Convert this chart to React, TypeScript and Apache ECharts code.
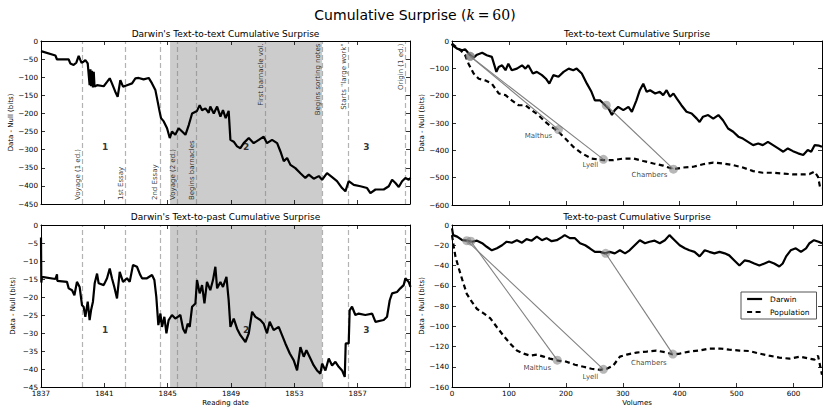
import React, { useEffect, useRef } from "react";
import * as echarts from "echarts";

const FONT = "DejaVu Sans";

// ---- Left top: Darwin's text-to-text cumulative surprise vs reading date
const ttDates = [1837.0, 1837.91, 1838.01, 1838.75, 1838.85, 1839.06, 1839.23, 1839.38, 1839.48, 1839.56, 1839.65, 1839.8, 1839.95, 1840.07, 1840.12, 1840.16, 1840.22, 1840.28, 1840.33, 1840.38, 1840.54, 1840.96, 1841.17, 1841.34, 1841.48, 1841.69, 1841.84, 1842.01, 1842.18, 1842.43, 1842.75, 1842.96, 1843.17, 1843.48, 1843.8, 1844.01, 1844.22, 1844.37, 1844.49, 1844.58, 1844.75, 1844.96, 1845.13, 1845.27, 1845.48, 1845.69, 1845.91, 1846.12, 1846.33, 1846.54, 1846.85, 1847.02, 1847.17, 1847.38, 1847.59, 1847.69, 1847.91, 1848.12, 1848.33, 1848.49, 1848.66, 1848.85, 1848.96, 1849.17, 1849.38, 1849.59, 1849.8, 1850.12, 1850.43, 1850.75, 1851.06, 1851.27, 1851.59, 1851.91, 1852.12, 1852.33, 1852.54, 1852.75, 1853.06, 1853.38, 1853.69, 1853.91, 1854.22, 1854.54, 1854.75, 1855.06, 1855.38, 1855.69, 1856.01, 1856.22, 1856.43, 1856.75, 1857.17, 1857.59, 1857.8, 1858.12, 1858.64, 1858.96, 1859.17, 1859.38, 1859.59, 1859.8, 1860.01, 1860.22, 1860.33];
const ttValues = [-28, -40, -51, -51, -62, -66, -60, -41, -52, -60, -58, -53, -62, -122, -78, -125, -82, -128, -85, -126, -122, -125, -113, -103, -117, -140, -154, -108, -126, -122, -117, -103, -102, -106, -102, -117, -135, -168, -195, -213, -222, -241, -268, -250, -259, -241, -250, -259, -232, -200, -193, -177, -191, -186, -198, -181, -200, -181, -209, -191, -213, -193, -273, -278, -291, -296, -282, -268, -282, -273, -264, -282, -273, -282, -305, -332, -323, -342, -351, -365, -378, -369, -380, -373, -383, -365, -376, -387, -406, -415, -387, -397, -401, -406, -420, -410, -410, -401, -383, -392, -403, -387, -378, -383, -378];

// ---- Left bottom: Darwin's text-to-past cumulative surprise vs reading date
const tpDates = [1837.0, 1837.02, 1837.06, 1837.91, 1838.01, 1838.03, 1838.64, 1838.75, 1838.96, 1839.11, 1839.27, 1839.44, 1839.59, 1839.69, 1839.8, 1839.95, 1840.07, 1840.16, 1840.28, 1840.39, 1840.54, 1840.64, 1840.96, 1841.17, 1841.34, 1841.48, 1841.63, 1841.8, 1841.97, 1842.18, 1842.43, 1842.6, 1842.81, 1843.06, 1843.27, 1843.38, 1843.69, 1844.01, 1844.16, 1844.28, 1844.41, 1844.54, 1844.64, 1844.79, 1844.92, 1845.06, 1845.27, 1845.48, 1845.8, 1845.97, 1846.12, 1846.26, 1846.39, 1846.54, 1846.75, 1846.85, 1847.02, 1847.17, 1847.32, 1847.48, 1847.69, 1847.86, 1848.01, 1848.12, 1848.33, 1848.49, 1848.71, 1848.85, 1848.96, 1849.17, 1849.38, 1849.59, 1849.91, 1850.12, 1850.33, 1850.54, 1850.85, 1851.06, 1851.27, 1851.44, 1851.69, 1852.01, 1852.22, 1852.43, 1852.71, 1852.96, 1853.17, 1853.38, 1853.59, 1853.76, 1854.01, 1854.22, 1854.43, 1854.64, 1854.75, 1854.96, 1855.17, 1855.38, 1855.59, 1855.8, 1856.01, 1856.18, 1856.24, 1856.43, 1856.49, 1856.64, 1856.85, 1857.06, 1857.48, 1857.91, 1858.12, 1858.64, 1858.85, 1859.02, 1859.17, 1859.48, 1859.69, 1859.9, 1860.01, 1860.22, 1860.33];
const tpValues = [-3.5, -16, -14.4, -15.0, -13.7, -15.5, -15.8, -17.6, -18.1, -19.5, -15.8, -17.2, -22.3, -22.7, -25.5, -21.3, -26.4, -23.7, -21.3, -16.2, -13.5, -16.2, -16.7, -14.8, -12.1, -14.8, -17.2, -20.4, -13.0, -15.8, -14.8, -15.8, -11.1, -11.6, -13.9, -14.8, -14.8, -13.9, -15.3, -19.9, -27.8, -24.6, -28.3, -25.5, -30.1, -26.4, -25.0, -26.0, -25.0, -28.8, -30.1, -27.4, -28.3, -22.7, -21.8, -15.3, -19.0, -16.7, -21.8, -15.8, -18.1, -15.3, -11.6, -17.6, -15.8, -17.2, -14.4, -20.9, -28.3, -26.0, -28.8, -30.6, -32.5, -30.1, -24.1, -25.5, -26.4, -27.4, -30.1, -26.9, -29.2, -28.3, -30.6, -32.9, -35.7, -37.6, -40.4, -33.9, -36.6, -34.8, -37.1, -39.0, -40.4, -41.3, -38.5, -40.4, -37.1, -39.0, -38.0, -39.4, -40.4, -42.2, -32.9, -32.9, -23.7, -22.7, -25.0, -24.6, -25.0, -24.6, -26.9, -26.4, -25.5, -20.9, -19.0, -18.6, -17.6, -16.7, -14.8, -15.8, -17.2];

// ---- Events (vertical dashed lines) and periods
const eventDates = [1839.6, 1842.35, 1844.5, 1845.62, 1846.78, 1851.17, 1854.75, 1856.41, 1860.0];
const eventLabels = ["Voyage (1 ed.)", "1st Essay", "2nd Essay", "Voyage (2 ed.)", "Begins barnacles", "First barnacle vol.", "Begins sorting notes", "Starts \"large work\"", "Origin (1 ed.)"];
const eventAtTop = [false, false, false, false, false, true, true, true, true];
const shadeRange = [1845.15, 1854.75];
const periodNames = ["1", "2", "3"];
const periodDates = [1841.05, 1849.95, 1857.55];

// ---- Right top: text-to-text vs volumes
const rtDarwinVol = [0, 1, 9, 18, 23, 32, 38, 44, 53, 61, 70, 78, 82, 88, 94, 99, 105, 114, 123, 129, 134, 142, 149, 158, 165, 171, 178, 187, 196, 205, 213, 219, 228, 237, 245, 251, 260, 269, 275, 281, 286, 292, 301, 310, 316, 324, 330, 336, 342, 348, 357, 365, 371, 377, 383, 389, 395, 403, 412, 421, 430, 435, 441, 450, 459, 468, 476, 485, 494, 503, 511, 520, 529, 538, 546, 555, 564, 573, 582, 590, 599, 608, 617, 625, 631, 637, 645, 650];
const rtDarwinVal = [-10, -16, -28, -34, -30, -52, -61, -50, -43, -52, -58, -113, -95, -89, -107, -83, -107, -101, -89, -101, -89, -119, -113, -125, -138, -156, -125, -131, -113, -101, -107, -101, -119, -156, -186, -217, -217, -235, -247, -271, -253, -241, -253, -241, -259, -217, -180, -156, -186, -180, -192, -186, -198, -180, -204, -192, -211, -235, -259, -265, -284, -296, -277, -271, -284, -271, -290, -320, -332, -350, -357, -369, -381, -375, -381, -369, -381, -393, -405, -393, -403, -411, -417, -399, -405, -381, -383, -387];
const rtPopVol = [0, 15, 23, 29, 38, 47, 58, 70, 82, 94, 105, 117, 129, 140, 152, 164, 175, 187, 199, 213, 228, 245, 266, 283, 301, 319, 336, 354, 371, 389, 406, 424, 441, 459, 476, 494, 511, 529, 546, 564, 582, 599, 617, 628, 637, 643, 647, 650];
const rtPopVal = [-10, -34, -52, -83, -119, -138, -144, -156, -192, -198, -217, -235, -235, -253, -271, -296, -314, -332, -357, -387, -411, -430, -436, -436, -430, -430, -439, -448, -456, -469, -463, -460, -451, -445, -448, -454, -463, -476, -482, -482, -485, -488, -488, -487, -478, -497, -539, -539];

// ---- Right bottom: text-to-past vs volumes
const rbDarwinVol = [0, 2, 9, 18, 26, 35, 44, 53, 61, 70, 79, 88, 96, 105, 114, 123, 131, 140, 149, 158, 166, 175, 184, 193, 198, 207, 216, 225, 234, 242, 251, 260, 269, 277, 286, 295, 304, 312, 321, 330, 339, 347, 356, 365, 374, 382, 391, 400, 409, 417, 426, 435, 444, 452, 461, 470, 479, 487, 496, 505, 514, 523, 531, 540, 549, 557, 566, 575, 581, 587, 595, 604, 613, 622, 628, 636, 644, 650];
const rbDarwinVal = [-3.3, -10, -11.5, -15, -15.5, -16.5, -15.5, -18, -21.5, -25, -23, -20, -16.5, -17.5, -15, -17.5, -14, -15.5, -11.5, -15, -13, -16, -15, -12, -10, -13, -13, -18, -20, -23, -26.5, -26.5, -28, -26.5, -28, -25, -28, -25, -20, -15, -18, -16.5, -15.5, -18, -15, -10, -15, -20, -23, -25, -26.5, -31, -25, -26.5, -28, -26.5, -28, -30, -35, -40, -35, -36, -38, -40, -38, -36, -38, -41, -38, -31, -25, -23, -26.5, -23, -18, -15, -16.5, -18];
const rbPopVol = [0, 3, 6, 12, 18, 26, 35, 44, 55, 67, 79, 90, 102, 114, 126, 137, 149, 161, 172, 187, 201, 216, 231, 245, 260, 272, 283, 295, 307, 324, 342, 359, 377, 389, 400, 417, 435, 452, 470, 487, 505, 523, 540, 557, 575, 593, 611, 628, 637, 643, 647, 650];
const rbPopVal = [-10, -21, -31, -43, -54, -68, -76, -83, -87, -92, -101, -109, -117, -124, -127, -129, -128, -130, -132, -134, -135, -138, -140, -142, -143, -142, -139, -130, -128, -126, -125, -124, -126, -128, -127, -125, -124, -122, -122, -123, -124, -124.5, -127, -129, -131, -132, -130, -132, -133, -129, -140, -148];

// ---- Influences: Darwin point -> population point
const influenceNames = ["Malthus", "Lyell", "Chambers"];
const rtFromVol = [32, 32, 271];
const rtFromVal = [-56, -56, -235];
const rtToVol = [187, 266, 389];
const rtToVal = [-324, -433, -469];
const rbFromVol = [33, 26, 270];
const rbFromVal = [-16, -15.5, -28];
const rbToVol = [185, 266, 388];
const rbToVal = [-133.5, -142.5, -127.5];

const zip = (xs: number[], ys: number[]) => xs.map((x, i) => [x, ys[i]]);
const minus = (v: number) => String(v).replace("-", "\u2212");

function axis(extra: any, showLabel: boolean, maxLabel = true) {
  return {
    type: "value",
    axisLine: { show: true, onZero: false, lineStyle: { color: "#000", width: 1 } },
    axisTick: { show: true, inside: true, length: 4, lineStyle: { color: "#000", width: 0.8 } },
    splitLine: { show: false },
    axisLabel: {
      show: showLabel,
      fontFamily: FONT,
      fontSize: 7.2,
      color: "#000",
      margin: 3,
      showMaxLabel: maxLabel,
      formatter: (v: number) => minus(v),
    },
    z: 10,
    ...extra,
  };
}

function buildOption() {
  const grids = [
    { left: 41, top: 41, width: 369, height: 163 },
    { left: 41, top: 225, width: 369, height: 162 },
    { left: 452, top: 41, width: 370, height: 164 },
    { left: 452, top: 225, width: 370, height: 162 },
  ];
  const yName = {
    name: "Data - Null (bits)",
    nameLocation: "middle",
    nameGap: 25,
    nameTextStyle: { fontFamily: FONT, fontSize: 7, color: "#000" },
  };
  const xName = (n: string) => ({
    name: n,
    nameLocation: "middle",
    nameGap: 12,
    nameTextStyle: { fontFamily: FONT, fontSize: 7, color: "#000", verticalAlign: "top" },
  });
  const xDate = { min: 1837, max: 1860.3, interval: 4 };
  const xVol = { min: 0, max: 650, interval: 100 };
  const xAxis = [
    axis({ gridIndex: 0, ...xDate }, false, false),
    axis({ gridIndex: 0, position: "top", ...xDate }, false, false),
    axis({ gridIndex: 1, ...xDate, ...xName("Reading date") }, true, false),
    axis({ gridIndex: 1, position: "top", ...xDate }, false, false),
    axis({ gridIndex: 2, ...xVol }, false, false),
    axis({ gridIndex: 2, position: "top", ...xVol }, false, false),
    axis({ gridIndex: 3, ...xVol, ...xName("Volumes") }, true, false),
    axis({ gridIndex: 3, position: "top", ...xVol }, false, false),
  ];
  const y0 = { min: -450, max: 0, interval: 50 };
  const y1 = { min: -45, max: 0, interval: 5 };
  const y2 = { min: -600, max: 0, interval: 100 };
  const y3 = { min: -160, max: 0, interval: 20 };
  const yAxis = [
    axis({ gridIndex: 0, ...y0, ...yName }, true),
    axis({ gridIndex: 0, position: "right", ...y0 }, false),
    axis({ gridIndex: 1, ...y1, ...yName }, true),
    axis({ gridIndex: 1, position: "right", ...y1 }, false),
    axis({ gridIndex: 2, ...y2, ...yName }, true),
    axis({ gridIndex: 2, position: "right", ...y2 }, false),
    axis({ gridIndex: 3, ...y3, ...yName }, true),
    axis({ gridIndex: 3, position: "right", ...y3 }, false),
  ];

  const series: any[] = [];
  const blackLine = { color: "#000", width: 2.2 };
  const dashedLine = { color: "#000", width: 2.2, type: [5, 3.5] };

  // Left panels: shading, dashed event lines, Darwin line, period numbers
  [0, 1].forEach((g) => {
    const ax = g * 2;
    series.push({
      type: "line",
      name: "shade" + g,
      xAxisIndex: ax,
      yAxisIndex: ax,
      data: [],
      silent: true,
      markArea: {
        silent: true,
        z: 1,
        itemStyle: { color: "#cccccc" },
        data: [[{ xAxis: shadeRange[0] }, { xAxis: shadeRange[1] }]],
      },
    });
    series.push({
      type: "line",
      name: "events" + g,
      xAxisIndex: ax,
      yAxisIndex: ax,
      data: [],
      silent: true,
      markLine: {
        silent: true,
        z: 2,
        symbol: ["none", "none"],
        label: { show: false },
        lineStyle: { type: [5, 3], color: "#808080", opacity: 0.6, width: 1.2 },
        data: eventDates.map((d) => ({ xAxis: d })),
      },
    });
    series.push({
      type: "scatter",
      name: "periods" + g,
      xAxisIndex: ax,
      yAxisIndex: ax,
      symbolSize: 0,
      z: 2,
      silent: true,
      data: periodDates.map((d, i) => ({ name: periodNames[i], value: [d, g === 0 ? -293 : -29.3] })),
      label: {
        show: true,
        position: "inside",
        formatter: "{b}",
        fontFamily: FONT,
        fontWeight: "bold",
        fontSize: 9,
        color: "#000",
      },
    });
    series.push({
      type: "line",
      name: "Darwin",
      xAxisIndex: ax,
      yAxisIndex: ax,
      data: g === 0 ? zip(ttDates, ttValues) : zip(tpDates, tpValues),
      symbol: "none",
      showSymbol: false,
      itemStyle: { color: "#000" },
      lineStyle: blackLine,
      z: 3,
    });
  });

  // Event labels in the top-left panel
  series.push({
    type: "scatter",
    name: "eventLabels",
    xAxisIndex: 0,
    yAxisIndex: 0,
    symbolSize: 0,
    z: 4,
    silent: true,
    data: eventDates.map((d, i) => ({
      name: eventLabels[i],
      value: [d - 0.05, eventAtTop[i] ? -7 : -439],
      label: {
        align: eventAtTop[i] ? "right" : "left",
      },
    })),
    label: {
      show: true,
      position: [0, 0],
      rotate: 90,
      verticalAlign: "bottom",
      formatter: "{b}",
      fontFamily: FONT,
      fontSize: 7,
      color: "#000",
    },
  });

  // Right panels
  const right = [
    {
      ax: 4,
      darwin: zip(rtDarwinVol, rtDarwinVal),
      pop: zip(rtPopVol, rtPopVal),
      from: zip(rtFromVol, rtFromVal),
      to: zip(rtToVol, rtToVal),
      offsets: [[-20, 6], [-13, 6], [-24, 6]],
    },
    {
      ax: 6,
      darwin: zip(rbDarwinVol, rbDarwinVal),
      pop: zip(rbPopVol, rbPopVal),
      from: zip(rbFromVol, rbFromVal),
      to: zip(rbToVol, rbToVal),
      offsets: [[-20, 8], [-13, 8], [-24, 9]],
    },
  ];
  const markerColor = "rgba(127,127,127,0.7)";
  right.forEach((r) => {
    series.push({
      type: "line",
      name: "Darwin",
      xAxisIndex: r.ax,
      yAxisIndex: r.ax,
      data: r.darwin,
      symbol: "none",
      showSymbol: false,
      itemStyle: { color: "#000" },
      lineStyle: blackLine,
      z: 3,
    });
    series.push({
      type: "line",
      name: "Population",
      xAxisIndex: r.ax,
      yAxisIndex: r.ax,
      data: r.pop,
      symbol: "none",
      showSymbol: false,
      itemStyle: { color: "#000" },
      lineStyle: dashedLine,
      z: 3,
    });
    r.from.forEach((f, i) => {
      series.push({
        type: "line",
        name: "link" + r.ax + i,
        xAxisIndex: r.ax,
        yAxisIndex: r.ax,
        data: [f, r.to[i]],
        symbol: "none",
        showSymbol: false,
        silent: true,
        lineStyle: { color: "#808080", width: 1.1 },
        z: 4,
      });
    });
    series.push({
      type: "scatter",
      name: "darwinPts" + r.ax,
      xAxisIndex: r.ax,
      yAxisIndex: r.ax,
      symbolSize: 9,
      silent: true,
      z: 5,
      itemStyle: { color: markerColor },
      data: r.from,
    });
    series.push({
      type: "scatter",
      name: "popPts" + r.ax,
      xAxisIndex: r.ax,
      yAxisIndex: r.ax,
      symbolSize: 9,
      silent: true,
      z: 5,
      itemStyle: { color: markerColor },
      data: r.to.map((t, i) => ({
        name: influenceNames[i],
        value: t,
        label: { offset: r.offsets[i] },
      })),
      label: {
        show: true,
        position: "inside",
        formatter: "{b}",
        fontFamily: FONT,
        fontSize: 7,
        color: "#111",
      },
    });
  });

  const title = (text: string, x: number, y: number) => ({
    type: "text",
    x,
    y,
    silent: true,
    style: {
      text,
      align: "center",
      verticalAlign: "middle",
      fontFamily: FONT,
      fontSize: 9,
      fill: "#000",
    },
  });

  return {
    animation: false,
    textStyle: { fontFamily: FONT },
    grid: grids,
    xAxis,
    yAxis,
    series,
    legend: {
      data: ["Darwin", "Population"],
      orient: "vertical",
      left: 741,
      top: 292,
      width: 78,
      itemWidth: 15,
      itemHeight: 8,
      itemGap: 5,
      padding: [3, 7, 3, 5],
      borderColor: "#555",
      borderWidth: 1,
      selectedMode: false,
      itemStyle: { opacity: 0, borderWidth: 0 },
      lineStyle: { color: "#000", width: 2.2 },
      textStyle: { fontFamily: FONT, fontSize: 7.5, color: "#000", padding: [0, 0, 0, 3] },
    },
    graphic: [
      {
        type: "text",
        x: 415,
        y: 15,
        silent: true,
        style: {
          text: "{a|Cumulative Surprise (}{k|k}{m|\u2009=\u200960}{a|)}",
          align: "center",
          verticalAlign: "middle",
          rich: {
            a: { fontFamily: FONT, fontSize: 14, fill: "#000" },
            k: { fontFamily: "DejaVu Serif", fontStyle: "italic", fontSize: 14, fill: "#000" },
            m: { fontFamily: "DejaVu Serif", fontSize: 14, fill: "#000" },
          },
        },
      },
      title("Darwin's Text-to-text Cumulative Surprise", 225.5, 34),
      title("Darwin's Text-to-past Cumulative Surprise", 225.5, 217),
      title("Text-to-text Cumulative Surprise", 637, 34),
      title("Text-to-past Cumulative Surprise", 637, 217),
    ],
  };
}

export default function App() {
  const ref = useRef<HTMLDivElement>(null);
  useEffect(() => {
    const chart = echarts.init(ref.current as HTMLDivElement, null, { renderer: "svg" });
    chart.setOption(buildOption() as any);
    return () => chart.dispose();
  }, []);
  return (
    <div
      ref={ref}
      style={{ position: "absolute", left: 0, top: 0, width: 830, height: 415 }}
    />
  );
}
